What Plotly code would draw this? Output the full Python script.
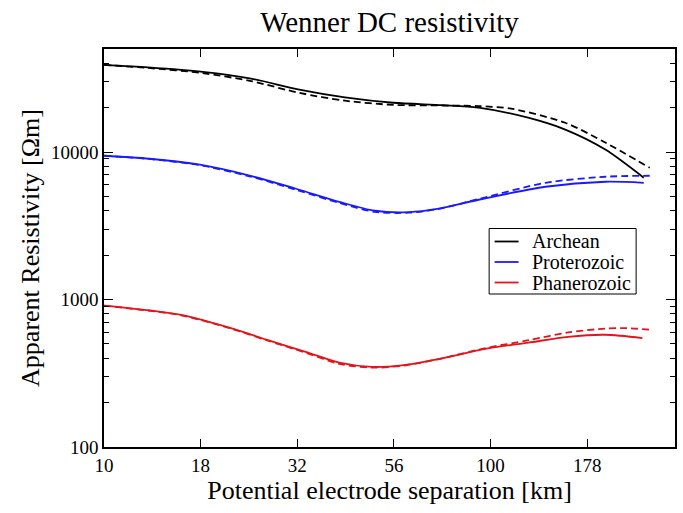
import plotly.graph_objects as go

# Electrode separations [km] and apparent resistivities [Ohm m]
archean_x = [10, 13, 18, 24, 32, 42, 56, 75, 93, 125, 156, 198, 249]
archean_solid = [39000, 37500, 35000, 31500, 26500, 23500, 21600, 20800, 20000, 17100, 14200, 10400, 6700]
archean_dash_x = [10, 13, 18, 24, 32, 42, 56, 75, 93, 113, 156, 198, 258]
archean_dash = [39000, 37200, 34300, 30300, 25200, 22300, 20900, 20700, 20500, 19700, 15800, 11600, 7830]

prot_x = [10, 13.1, 17.7, 23.8, 31.4, 40.6, 50.2, 61.5, 73.5, 93.1, 138.6, 198, 249]
prot_solid = [9440, 9010, 8210, 6930, 5640, 4600, 4000, 3910, 4130, 4750, 5820, 6290, 6190]
prot_dash_x = [10, 13.1, 17.7, 23.8, 31.4, 40.6, 50.2, 61.5, 73.5, 93.1, 138.6, 198, 258]
prot_dash = [9440, 8980, 8150, 6850, 5550, 4520, 3930, 3880, 4120, 4800, 6190, 6800, 6910]

phan_x = [10, 15.7, 21.1, 26.3, 33.4, 40.6, 49.3, 60.4, 73.5, 97.7, 125.3, 158.8, 198, 247]
phan_solid = [908, 789, 644, 535, 440, 373, 349, 361, 395, 464, 510, 559, 577, 548]
phan_dash_x = [10, 15.7, 21.1, 26.3, 33.4, 40.6, 49.3, 60.4, 73.5, 97.7, 125.3, 158.8, 198, 225, 258]
phan_dash = [908, 785, 640, 530, 434, 366, 345, 358, 395, 470, 530, 598, 635, 640, 624]

x_ticks = [10, 17.78, 31.62, 56.23, 100, 177.8]
x_tick_text = ["10", "18", "32", "56", "100", "178"]
y_ticks = [100, 1000, 10000]
y_tick_text = ["100", "1000", "10000"]
y_minor = [m * d for d in (100, 1000, 10000) for m in range(2, 10) if m * d <= 50000]

series = [
    ("Archean", "#000000", archean_x, archean_solid, archean_dash_x, archean_dash),
    ("Proterozoic", "#1a1aff", prot_x, prot_solid, prot_dash_x, prot_dash),
    ("Phanerozoic", "#e3141c", phan_x, phan_solid, phan_dash_x, phan_dash),
]

fig = go.Figure()
for name, color, xs, ys, xd, yd in series:
    fig.add_trace(go.Scatter(x=xs, y=ys, mode="lines", name=name, showlegend=False,
                             line=dict(color=color, width=1.8, shape="spline", smoothing=0.8)))
    fig.add_trace(go.Scatter(x=xd, y=yd, mode="lines", name=name + " (dashed)", showlegend=False,
                             line=dict(color=color, width=1.8, dash="7px,4px", shape="spline", smoothing=0.8)))

serif = "Liberation Serif, Times New Roman, serif"

# Legend box drawn in paper coordinates (plot area spans 104..677 x 49..447 px)
W, H = 683, 513
ML, MR, MT, MB = 104, 6, 49, 66
pw, ph = W - ML - MR, H - MT - MB


def px(x):
    return (x - ML) / pw


def py(y):
    return (H - MB - y) / ph


shapes = [dict(type="rect", xref="paper", yref="paper",
               x0=px(490.5), x1=px(638), y0=py(294), y1=py(228.5),
               line=dict(color="black", width=1), fillcolor="white", layer="above")]
annotations = []
for i, (name, color, *_rest) in enumerate(series):
    yy = 241.5 + i * 20.5
    shapes.append(dict(type="line", xref="paper", yref="paper",
                       x0=px(496), x1=px(520), y0=py(yy), y1=py(yy),
                       line=dict(color=color, width=1.8), layer="above"))
    annotations.append(dict(text=name, xref="paper", yref="paper", x=px(531), y=py(yy),
                            xanchor="left", yanchor="middle", showarrow=False,
                            font=dict(family=serif, size=20, color="black")))

fig.update_layout(
    width=W, height=H,
    margin=dict(l=ML, r=MR, t=MT, b=MB),
    paper_bgcolor="white", plot_bgcolor="white",
    font=dict(family=serif, color="black", size=19),
    title=dict(text="Wenner DC resistivity", x=0.5, xref="paper", xanchor="center",
               y=1 - 22 / H, yref="container", yanchor="middle",
               font=dict(family=serif, size=29, color="black")),
    showlegend=False,
    shapes=shapes,
    annotations=annotations,
)
fig.update_xaxes(
    type="log", range=[1, 2.477],
    tickmode="array", tickvals=x_ticks, ticktext=x_tick_text,
    ticks="inside", ticklen=8, tickwidth=1, tickcolor="black",
    showline=True, linecolor="black", linewidth=1.5, mirror="ticks",
    showgrid=False, zeroline=False,
    tickfont=dict(family=serif, size=19, color="black"),
    title=dict(text="Potential electrode separation [km]", standoff=6,
               font=dict(family=serif, size=26, color="black")),
)
fig.update_yaxes(
    type="log", range=[2, 4.699],
    tickmode="array", tickvals=y_ticks, ticktext=y_tick_text,
    ticks="inside", ticklen=9, tickwidth=1, tickcolor="black",
    minor=dict(tickmode="array", tickvals=y_minor, ticks="inside", ticklen=5,
               tickcolor="black", tickwidth=1, showgrid=False),
    showline=True, linecolor="black", linewidth=1.5, mirror="ticks",
    showgrid=False, zeroline=False,
    tickfont=dict(family=serif, size=19, color="black"),
    title=dict(text="Apparent Resistivity [Ωm]", standoff=4,
               font=dict(family=serif, size=26, color="black")),
)

fig.write_html("out.html")
